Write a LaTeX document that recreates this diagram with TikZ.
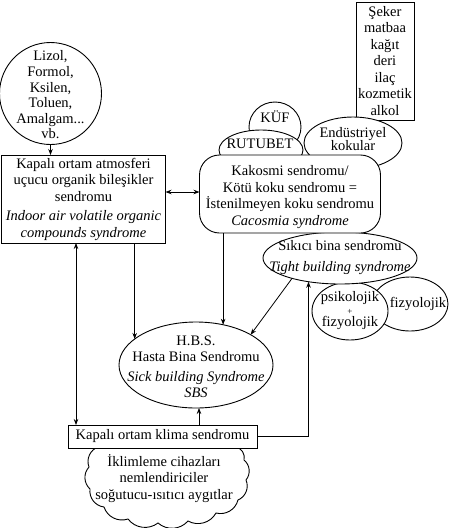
\documentclass[tikz,border=0pt]{standalone}
\usepackage{fontspec}
\setmainfont{Liberation Serif}
\usetikzlibrary{shapes.geometric,shapes.symbols,arrows.meta}
\begin{document}
\begin{tikzpicture}[x=1pt,y=-1pt,
  font=\fontsize{14.5}{16.5}\selectfont,
  every node/.style={inner sep=0pt, outer sep=0pt},
  ln/.style={line width=0.9pt},
  obj/.style={draw, ln, fill=white},
  txt/.style={align=center},
  puff/.style={bend right=45},
  arr/.style={line width=0.8pt, -{Stealth[length=6pt,width=4.5pt]}},
  dbl/.style={line width=0.8pt, {Stealth[length=6pt,width=4.5pt]}-{Stealth[length=6pt,width=4.5pt]}},
]
\useasboundingbox (0,0) rectangle (450,528);

% bottom cloud and klima box
\draw[obj] (98,447) to[puff] (89,467) to[puff] (90,489) to[puff] (104,507)
  to[puff] (128,519) to[puff] (158,523) to[puff] (188,521) to[puff] (216,513)
  to[puff] (238,500) to[puff] (246,480) to[puff] (244,460) to[puff] (236,447) -- cycle;
\node[rectangle, obj, minimum width=189pt, minimum height=23pt] (klima) at (162.5,436.5) {Kapalı ortam klima sendromu};

% right cluster
\node[ellipse, obj, minimum width=76pt, minimum height=54pt] (fiz) at (410,304) {};
\node[ellipse, obj, minimum width=76pt, minimum height=58pt] (psiko) at (350,311) {};
\node[ellipse, obj, minimum width=154pt, minimum height=52pt] (sikici) at (340,258) {};

% top right
\node[rectangle, obj, minimum width=58pt, minimum height=118pt] (seker) at (385,61) {};
\node[ellipse, obj, minimum width=52pt, minimum height=50pt] (kuf) at (275,127) {};
\node[ellipse, obj, minimum width=84pt, minimum height=40pt] (rutubet) at (261,150) {};
\node[ellipse, obj, minimum width=98pt, minimum height=52pt] (endustri) at (353,143) {};
\node[rectangle, obj, rounded corners=20pt, minimum width=181pt, minimum height=78pt] (kakosmi) at (290,194) {};

% left
\node[circle, obj, minimum size=102pt] (lizol) at (50.5,93.5) {};
\node[rectangle, obj, minimum width=164pt, minimum height=88pt, txt] (box1) at (83.5,199) {Kapalı ortam atmosferi\\uçucu organik bileşikler\\sendromu\\[3pt]\textit{Indoor air volatile organic}\\\textit{compounds syndrome}};
\node[ellipse, obj, minimum width=154pt, minimum height=86pt] (hbs) at (196,365) {};

% texts
\node[txt] (sekertext) at (385,61) {Şeker\\matbaa\\kağıt\\deri\\ilaç\\kozmetik\\alkol};
\node[txt, font=\fontsize{14.5}{15.6}\selectfont] (lizoltext) at (50.5,95) {Lizol,\\Formol,\\Ksilen,\\Toluen,\\Amalgam...\\vb.};
\node (kuftext) at (275,117) {KÜF};
\node (rutubettext) at (260,144) {RUTUBET};
\node[txt, font=\fontsize{14.5}{13.5}\selectfont] (endustritext) at (353,139) {Endüstriyel\\kokular};
\node[txt] (kakosmitext) at (290,197) {Kakosmi sendromu/\\Kötü koku sendromu =\\İstenilmeyen koku sendromu\\\textit{Cacosmia syndrome}};
\node[txt] (sikicitext) at (340,257.5) {Sıkıcı bina sendromu\\[4pt]\textit{Tight building syndrome}};
\node[txt] (psikotext) at (350,311) {psikolojik\\[-4pt]{\small+}\\[-4pt]fizyolojik};
\node (fiztext) at (418,304) {fizyolojik};
\node[txt] (hbstext) at (196,367) {H.B.S.\\Hasta Bina Sendromu\\[3pt]\textit{Sick building Syndrome}\\\textit{SBS}};
\node[txt] (cloudtext) at (164,478.5) {İklimleme cihazları\\nemlendiriciler\\soğutucu-ısıtıcı aygıtlar};

% helper coordinates
\coordinate (y192) at (0,192);
\coordinate (x76) at (76,0);

% connectors
\draw[arr] (lizol.south) -- (lizol.south |- box1.north);
\draw[dbl] (box1.east |- y192) -- (kakosmi.west |- y192);
\draw[arr] (box1.south -| hbs.157.6) -- (hbs.157.6);
\draw[dbl] (box1.south -| x76) -- (klima.north -| x76);
\draw[arr] (kakosmi.south -| hbs.56.2) -- (hbs.56.2);
\draw[arr] (sikici.203.7) -- (hbs.29.6);
\draw[arr] (klima.north -| hbs.-86) -- (hbs.-86);
\draw[arr] (klima.east) -| (sikici.-143.6);
\end{tikzpicture}
\end{document}
